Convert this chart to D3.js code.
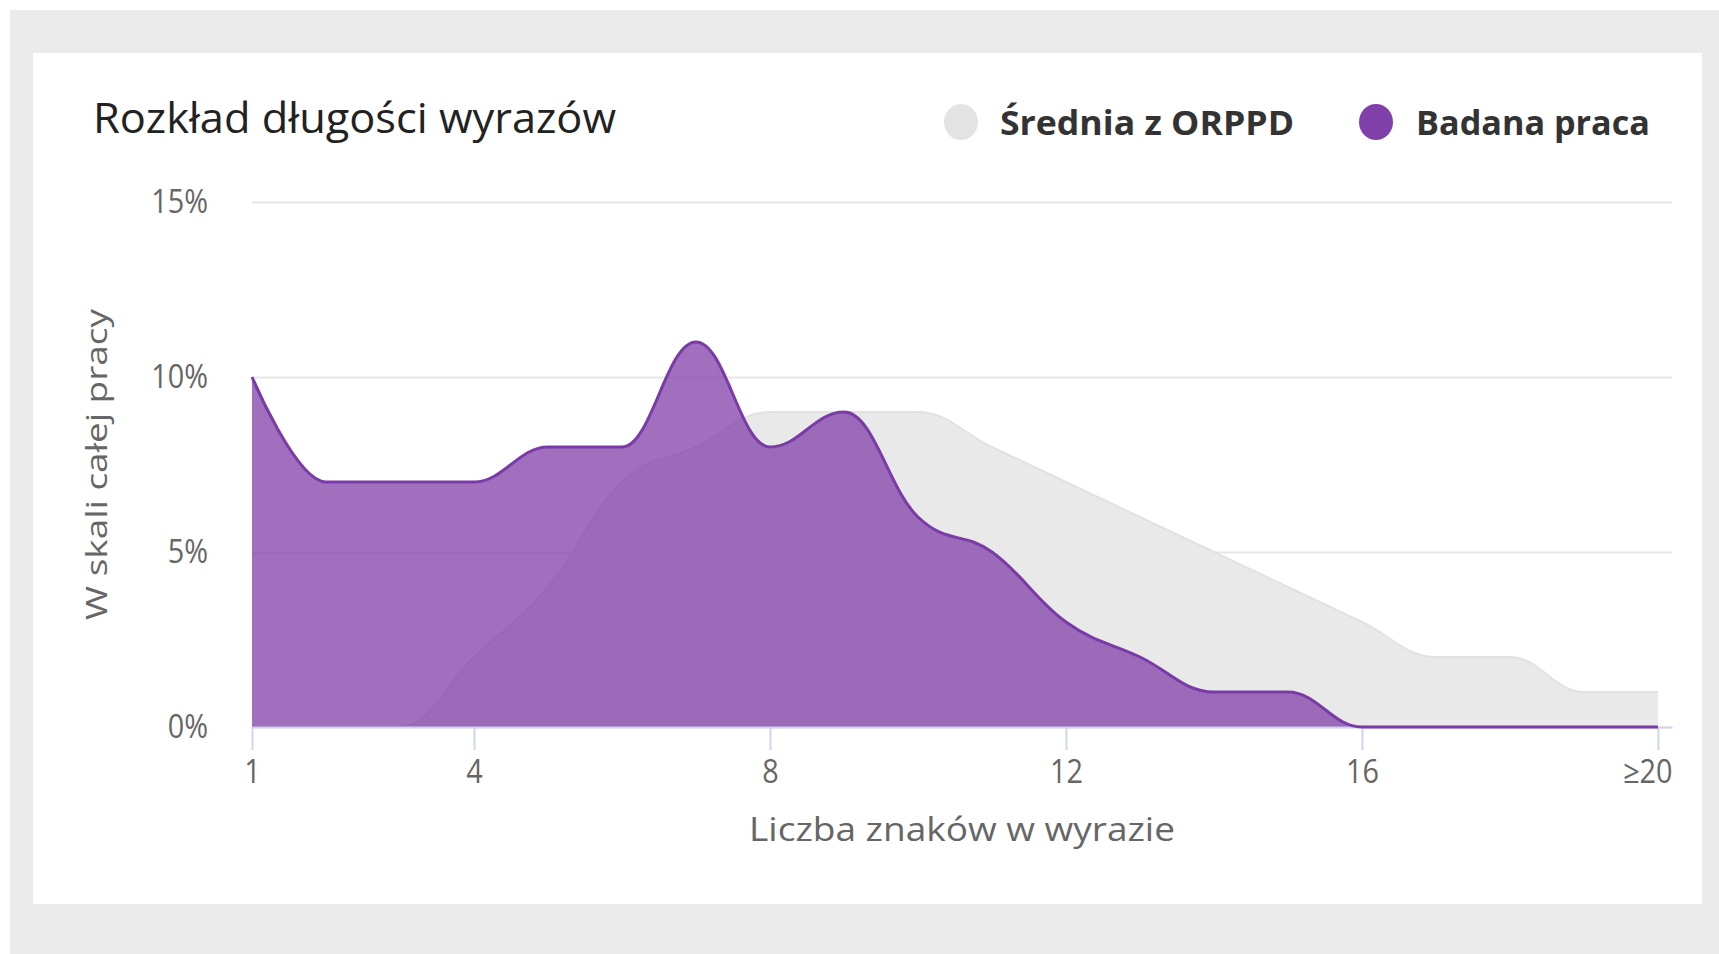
<!DOCTYPE html>
<html lang="pl">
<head>
<meta charset="utf-8">
<script src="https://cdn.jsdelivr.net/npm/d3@7"></script>
<style>
  html, body { margin: 0; padding: 0; background: #ffffff; }
  svg { display: block; }
  text { font-family: "Open Sans", "Noto Sans", "DejaVu Sans", sans-serif; }
</style>
</head>
<body>
<svg id="chart" width="1719" height="954"></svg>
<script>
// Word length (characters per word), last bucket collects 20 and more
const wordLengths = [1, 2, 3, 4, 5, 6, 7, 8, 9, 10, 11, 12, 13, 14, 15, 16, 17, 18, 19, 20];
// Share of words of each length, in percent
const averageOrppd = [0, 0, 0, 2, 4, 7, 8, 9, 9, 9, 8, 7, 6, 5, 4, 3, 2, 2, 1, 1];
const examinedWork = [10, 7, 7, 7, 8, 8, 11, 8, 9, 6, 5, 3, 2, 1, 1, 0, 0, 0, 0, 0];
// Axis ticks
const xTickValues = [1, 4, 8, 12, 16, 20];
const xTickLabels = ["1", "4", "8", "12", "16", "≥20"];
const yTickValues = [0, 5, 10, 15];
// Series names
const seriesNames = ["Średnia z ORPPD", "Badana praca"];

// Smooth spline curve: control points at 1/2.5 of the way to the neighbours,
// levelled at local extremes so the curve never overshoots.
function curveSoftSpline(context) {
  return {
    areaStart() { this._line = 0; },
    areaEnd() { this._line = NaN; },
    lineStart() { this._pts = []; },
    point(px, py) { this._pts.push([+px, +py]); },
    lineEnd() {
      const p = this._pts, n = p.length, s = 1.5, den = s + 1;
      if (n) {
        if (this._line) context.lineTo(p[0][0], p[0][1]); else context.moveTo(p[0][0], p[0][1]);
        const L = [], R = [];
        for (let i = 0; i < n; i++) {
          const [cx, cy] = p[i];
          if (i > 0 && i < n - 1) {
            const [lx, ly] = p[i - 1], [nx, ny] = p[i + 1];
            const lcx = (s * cx + lx) / den, rcx = (s * cx + nx) / den;
            let lcy = (s * cy + ly) / den, rcy = (s * cy + ny) / den;
            let corr = 0;
            if (rcx !== lcx) corr = ((rcy - lcy) * (rcx - cx)) / (rcx - lcx) + cy - rcy;
            lcy += corr; rcy += corr;
            if (lcy > ly && lcy > cy) { lcy = Math.max(ly, cy); rcy = 2 * cy - lcy; }
            else if (lcy < ly && lcy < cy) { lcy = Math.min(ly, cy); rcy = 2 * cy - lcy; }
            if (rcy > ny && rcy > cy) { rcy = Math.max(ny, cy); lcy = 2 * cy - rcy; }
            else if (rcy < ny && rcy < cy) { rcy = Math.min(ny, cy); lcy = 2 * cy - rcy; }
            L[i] = [lcx, lcy]; R[i] = [rcx, rcy];
          } else {
            L[i] = [cx, cy]; R[i] = [cx, cy];
          }
        }
        for (let i = 1; i < n; i++) {
          context.bezierCurveTo(R[i - 1][0], R[i - 1][1], L[i][0], L[i][1], p[i][0], p[i][1]);
        }
      }
      if (this._line || (this._line !== 0 && n === 1)) context.closePath();
      this._line = 1 - this._line;
    }
  };
}

const svg = d3.select("#chart");

// page frame and white card
svg.append("rect").attr("x", 10).attr("y", 10).attr("width", 1709).attr("height", 944).attr("fill", "#ebebeb");
svg.append("rect").attr("x", 33).attr("y", 53).attr("width", 1669).attr("height", 851).attr("fill", "#ffffff");

const plot = { left: 252, right: 1672, top: 202, bottom: 727 };

const x = d3.scaleLinear().domain([1, 20.19]).range([plot.left, plot.right]);
const y = d3.scaleLinear().domain([0, 15]).range([plot.bottom, plot.top]);

// squeeze text horizontally to mimic the narrow UI face
function squeeze(sel, factor) {
  sel.each(function () {
    const w = this.getComputedTextLength();
    d3.select(this).attr("textLength", w * factor).attr("lengthAdjust", "spacingAndGlyphs");
  });
}

// title
svg.append("text")
  .attr("x", 93).attr("y", 133)
  .attr("font-size", 42).attr("fill", "#222")
  .attr("textLength", 523).attr("lengthAdjust", "spacingAndGlyphs")
  .text("Rozkład długości wyrazów");

// legend
const legendColors = ["#e3e3e3", "#8040aa"];
const legendItems = [
  { cx: 961, tx: 1000, w: 294 },
  { cx: 1376, tx: 1416, w: 234 }
];
legendItems.forEach((it, i) => {
  svg.append("ellipse").attr("cx", it.cx).attr("cy", 122).attr("rx", 17).attr("ry", 18)
    .attr("fill", legendColors[i]);
  svg.append("text")
    .attr("x", it.tx).attr("y", 135)
    .attr("font-size", 34).attr("font-weight", "bold").attr("fill", "#333")
    .attr("textLength", it.w).attr("lengthAdjust", "spacingAndGlyphs")
    .text(seriesNames[i]);
});

// y grid and labels
const yAxis = svg.append("g")
  .attr("transform", `translate(${plot.left},0)`)
  .call(d3.axisLeft(y).tickValues(yTickValues).tickSize(-(plot.right - plot.left))
    .tickPadding(44).tickFormat(d => d + "%"));
yAxis.select(".domain").remove();
yAxis.selectAll(".tick line").attr("stroke", "#e6e6e6").attr("stroke-width", 2);
yAxis.selectAll(".tick text")
  .attr("font-size", 32).attr("fill", "#666").attr("font-family", "Open Sans, sans-serif")
  .call(squeeze, 0.9);

// areas
const area = d3.area()
  .x((d, i) => x(wordLengths[i]))
  .y0(y(0))
  .y1(d => y(d))
  .curve(curveSoftSpline);
const line = d3.line()
  .x((d, i) => x(wordLengths[i]))
  .y(d => y(d))
  .curve(curveSoftSpline);

svg.append("path").datum(averageOrppd)
  .attr("d", area).attr("fill", "#e9e9e9");
svg.append("path").datum(averageOrppd)
  .attr("d", line).attr("fill", "none").attr("stroke", "#e2e2e2").attr("stroke-width", 2);

svg.append("path").datum(examinedWork)
  .attr("d", area).attr("fill", "#8040aa").attr("fill-opacity", 0.75);

// x axis
const xAxis = svg.append("g")
  .attr("transform", `translate(0,${plot.bottom})`)
  .call(d3.axisBottom(x).tickValues(xTickValues).tickSizeInner(23).tickSizeOuter(0)
    .tickPadding(10).tickFormat((d, i) => xTickLabels[i]));
xAxis.select(".domain").attr("stroke", "#ccd6eb").attr("stroke-width", 2);
xAxis.selectAll(".tick line").attr("stroke", "#ccd6eb").attr("stroke-width", 2);
xAxis.selectAll(".tick text")
  .attr("font-size", 32).attr("fill", "#666").attr("font-family", "Open Sans, sans-serif")
  .call(squeeze, 0.9);
// keep the last label inside the plot
xAxis.selectAll(".tick text").filter((d, i) => i === xTickValues.length - 1)
  .attr("text-anchor", "end").attr("x", x.range()[1] - x(20));

svg.append("path").datum(examinedWork)
  .attr("d", line).attr("fill", "none").attr("stroke", "#7a3aa8").attr("stroke-width", 3);

// axis titles
svg.append("text")
  .attr("x", (plot.left + plot.right) / 2).attr("y", 841)
  .attr("text-anchor", "middle").attr("font-size", 33).attr("fill", "#666")
  .attr("textLength", 426).attr("lengthAdjust", "spacingAndGlyphs")
  .text("Liczba znaków w wyrazie");

svg.append("text")
  .attr("transform", `translate(107,${(plot.top + plot.bottom) / 2}) rotate(-90)`)
  .attr("text-anchor", "middle").attr("font-size", 30).attr("fill", "#666")
  .attr("textLength", 311).attr("lengthAdjust", "spacingAndGlyphs")
  .text("W skali całej pracy");
</script>
</body>
</html>
